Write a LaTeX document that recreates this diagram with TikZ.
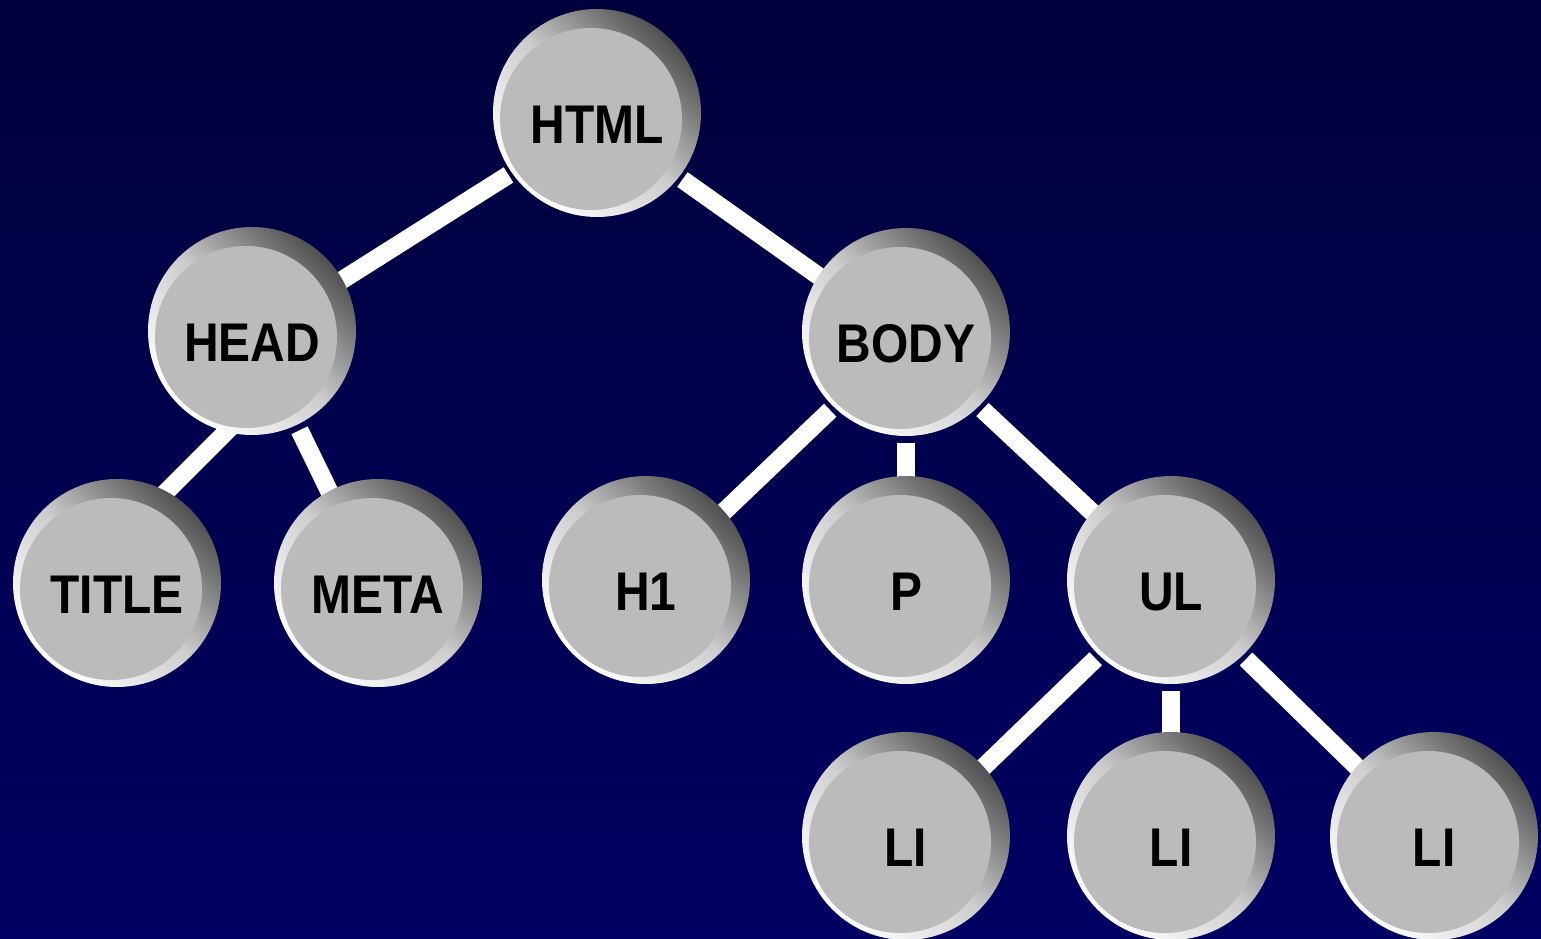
\documentclass[tikz,border=0pt]{standalone}
\usepackage{fontspec}
\setmainfont{Liberation Sans}
\newfontfamily\ballfont{Liberation Sans Bold}[FakeStretch=0.88]
\usetikzlibrary{calc}
\usetikzlibrary{backgrounds}
\definecolor{navytop}{RGB}{0,0,60}
\definecolor{navybottom}{RGB}{0,0,98}
\definecolor{ballgray}{RGB}{187,187,187}
\definecolor{rimdark}{RGB}{80,80,80}
\definecolor{rimmid}{RGB}{205,205,205}

\begin{document}
\begin{tikzpicture}[
            ballnode/.style={circle, minimum size=2.08cm, inner sep=0pt,
                top color=rimdark, bottom color=white, middle color=rimmid, shading angle=-45,
                font=\ballfont\fontsize{15.5}{18}\selectfont, text height=0.61cm, text depth=0pt,
                path picture={\fill[ballgray] ($(path picture bounding box.center)+(-0.06,-0.06)$) circle (0.91cm);}},
            link/.style={white, line width=0.18cm, transform canvas={shift={(0,-0.06)}}},
            ]

            \useasboundingbox (0,0) rectangle (15.41,-9.39);

            \node[ballnode] (HTML) at (5.97,-1.13) {HTML};
            \node[ballnode] (HEAD) at (2.52,-3.31) {HEAD};
            \node[ballnode] (BODY) at (9.06,-3.32) {BODY};
            \node[ballnode] (TITLE) at (1.17,-5.83) {TITLE};
            \node[ballnode] (META) at (3.78,-5.83) {META};
            \node[ballnode] (H1) at (6.46,-5.80) {H1};
            \node[ballnode] (P) at (9.06,-5.80) {P};
            \node[ballnode] (UL) at (11.71,-5.80) {UL};
            \node[ballnode] (LIa) at (9.06,-8.36) {LI};
            \node[ballnode] (LIb) at (11.71,-8.36) {LI};
            \node[ballnode] (LIc) at (14.34,-8.36) {LI};

            \begin{scope}[on background layer]
                \shade[top color=navytop, bottom color=navybottom] (0,0) rectangle (15.41,-9.39);
                \draw[link] (HTML) -- (HEAD);
                \draw[link] (HTML) -- (BODY);
                \draw[link] ([shift={(0.08,-0.61)}]HEAD.center) -- ([shift={(0.33,0.81)}]TITLE.center);
                \draw[link] (HEAD) -- (META);
                \draw[link] (BODY) -- (H1);
                \draw[link] (BODY) -- (P);
                \draw[link] (BODY) -- (UL);
                \draw[link] (UL) -- (LIa);
                \draw[link] (UL) -- (LIb);
                \draw[link] (UL) -- (LIc);
            \end{scope}
        \end{tikzpicture}
\end{document}
